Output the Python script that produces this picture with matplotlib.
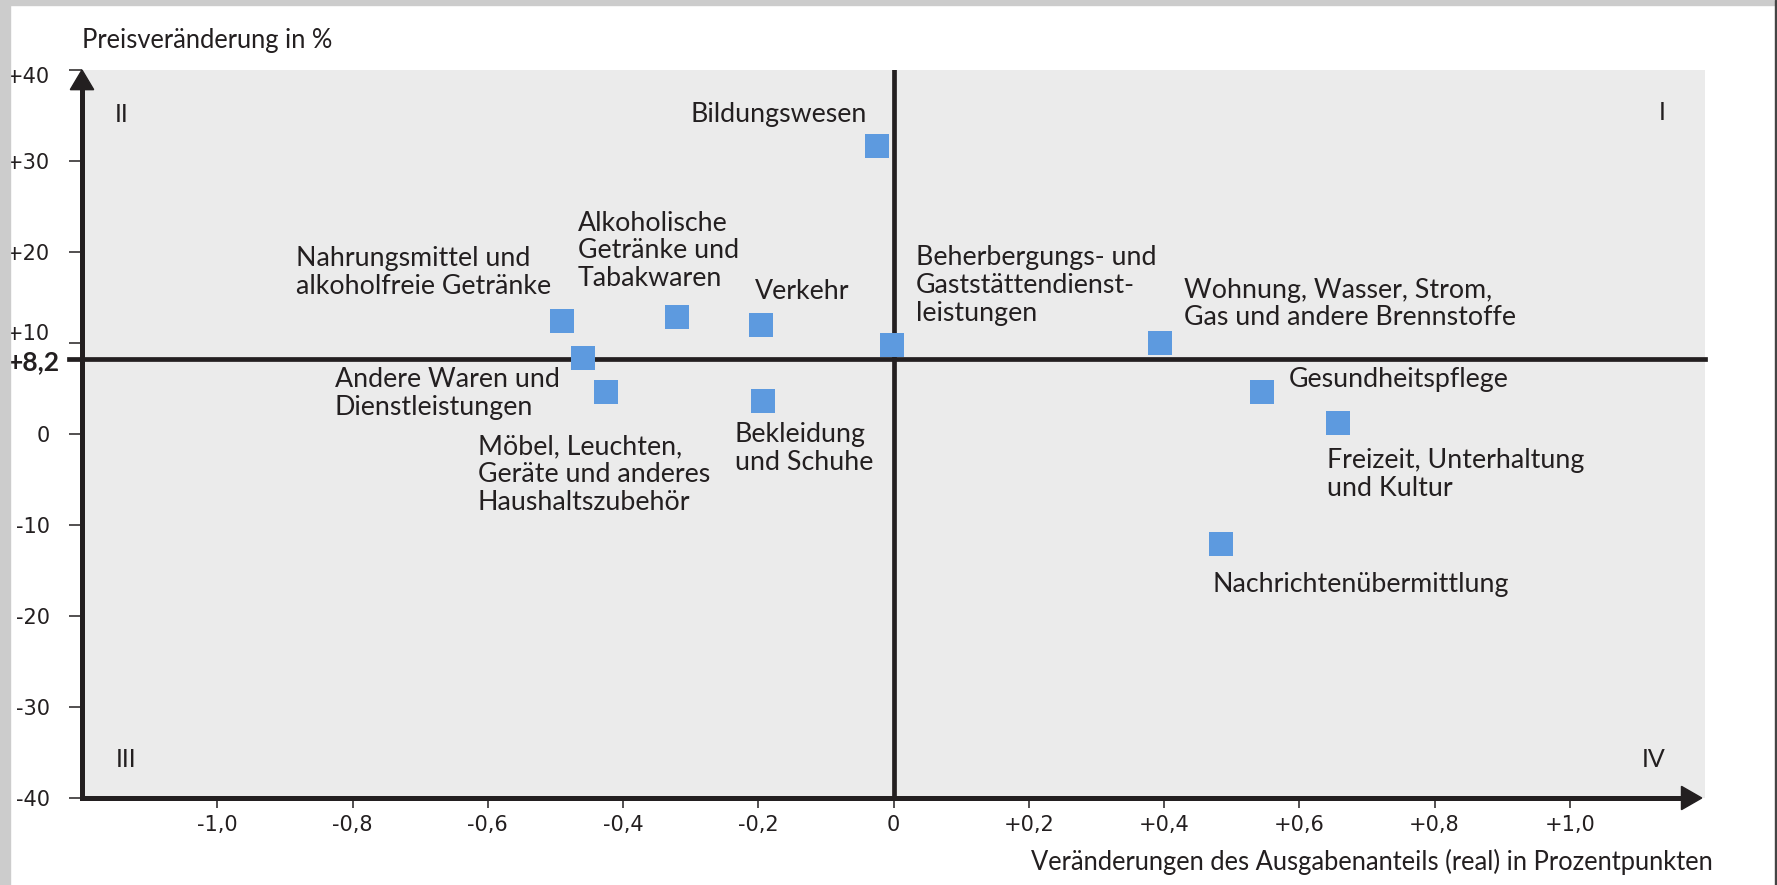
import matplotlib
matplotlib.use("Agg")
from matplotlib import pyplot as plt
from matplotlib.patches import Polygon, Rectangle
from matplotlib.transforms import ScaledTranslation, blended_transform_factory
import numpy as np

plt.rcParams['font.family'] = ['Lato', 'DejaVu Sans']

# data: change of expenditure share (pp) vs. price change (%)
categories = ['Nahrungsmittel und\nalkoholfreie Getränke',
              'Andere Waren und\nDienstleistungen',
              'Möbel, Leuchten,\nGeräte und anderes\nHaushaltszubehör',
              'Alkoholische\nGetränke und\nTabakwaren',
              'Verkehr',
              'Bekleidung\nund Schuhe',
              'Bildungswesen',
              'Beherbergungs- und\nGaststättendienst-\nleistungen',
              'Wohnung, Wasser, Strom,\nGas und andere Brennstoffe',
              'Gesundheitspflege',
              'Freizeit, Unterhaltung\nund Kultur',
              'Nachrichtenübermittlung']
share_change = [-0.490, -0.459, -0.425, -0.320, -0.196, -0.193,
                -0.024, -0.002, 0.394, 0.545, 0.658, 0.484]
price_change = [12.4, 8.3, 4.6, 12.9, 12.0, 3.6,
                31.7, 9.8, 10.0, 4.6, 1.2, -12.1]
avg_price = 8.2

xticks = [-1.0, -0.8, -0.6, -0.4, -0.2, 0, 0.2, 0.4, 0.6, 0.8, 1.0]
xticklabels = ['-1,0', '-0,8', '-0,6', '-0,4', '-0,2', '0',
               '+0,2', '+0,4', '+0,6', '+0,8', '+1,0']
yticks = [-40, -30, -20, -10, 0, 10, 20, 30, 40]
yticklabels = ['-40', '-30', '-20', '-10', '0', '+10', '+20', '+30', '+40']

# label anchor (left, baseline of first line) in data units
label_pos = [(-0.883, 18.4), (-0.826, 5.1), (-0.615, -2.4), (-0.467, 22.2),
             (-0.205, 14.8), (-0.235, -1.0), (-0.300, 34.3), (0.033, 18.4),
             (0.430, 14.9), (0.584, 5.15), (0.6415, -3.85), (0.472, -17.4)]
line_step = 27 / 9.1  # line pitch in data units

ink = '#231f20'
blue = '#5d9adf'

W, H = 1777, 885
fig = plt.figure(figsize=(W / 100, H / 100), dpi=100, facecolor='white')
# page frame
fig.patches.append(Rectangle((0, 0), 10 / W, 1, transform=fig.transFigure, color='#cccccc', zorder=0))
fig.patches.append(Rectangle((0, 1 - 5 / H), 1, 5 / H, transform=fig.transFigure, color='#cccccc', zorder=0))
fig.patches.append(Rectangle((1775 / W, 0), 1.2 / W, 1, transform=fig.transFigure, color='#444444', zorder=0))

ax = fig.add_axes([82 / W, 1 - 798 / H, 1623 / W, 728 / H])
ax.set_facecolor('#ebebeb')
ax.set_xlim(-1.2, 1.2)
ax.set_ylim(-40, 40)

for s in ['top', 'right']:
    ax.spines[s].set_visible(False)
for s in ['left', 'bottom']:
    ax.spines[s].set_linewidth(3.6)
    ax.spines[s].set_color(ink)
    ax.spines[s].set_capstyle('projecting')
ax.spines['left'].set_bounds(-40, 38)
ax.spines['bottom'].set_bounds(-1.2, 1.18)

# arrow heads
ax.add_patch(Polygon([(-0.0072, 1 - 0.027), (0.0072, 1 - 0.027), (0, 1)],
                     closed=True, transform=ax.transAxes, color=ink, clip_on=False, zorder=5))
ax.add_patch(Polygon([(0.998 - 0.0125, -0.016), (0.998 - 0.0125, 0.016), (0.998, 0)],
                     closed=True, transform=ax.transAxes, color=ink, clip_on=False, zorder=5))

# quadrant dividers
ax.axhline(avg_price, xmin=-0.008, xmax=1, color=ink, lw=3.4, clip_on=False, zorder=2)
ax.axvline(0, color=ink, lw=3.4, zorder=2)

ax.set_xticks(xticks)
ax.set_xticklabels(xticklabels, fontfamily='DejaVu Sans')
ax.set_yticks(yticks)
ax.set_yticklabels(yticklabels, fontfamily='DejaVu Sans')
ax.tick_params(axis='y', direction='out', length=9.4, width=1.1, color=ink,
               pad=14, labelsize=15, labelcolor=ink)
ax.tick_params(axis='x', direction='out', length=7.2, width=1.1, color=ink,
               pad=5, labelsize=15, labelcolor=ink)
for lab in ax.get_yticklabels():
    if lab.get_text() == '+10':
        lab.set_transform(lab.get_transform() + ScaledTranslation(0, 11 / 100, fig.dpi_scale_trans))
    if lab.get_text() == '+40':
        lab.set_transform(lab.get_transform() + ScaledTranslation(0, -5 / 100, fig.dpi_scale_trans))

trans = blended_transform_factory(ax.transAxes, ax.transData)
ax.text(-0.0136, 7.0, '+8,2', transform=trans, ha='right', va='baseline',
        fontsize=19, fontweight='bold', color=ink, clip_on=False)

ax.scatter(share_change, price_change, marker='s', s=16.6 ** 2, color=blue,
           linewidths=0, zorder=4)

# multi-line text: 'baseline' anchors the last line
for name, (lx, ly) in zip(categories, label_pos):
    n = name.count('\n')
    ax.text(lx, ly - n * line_step, name, ha='left', va='baseline', fontsize=19.3,
            color=ink, linespacing=1.135, zorder=6)

# quadrant numbers
for txt, qx, qy in [('II', -1.142, 34.3), ('I', 1.1365, 34.5),
                    ('III', -1.135, -36.6), ('IV', 1.1246, -36.6)]:
    ax.text(qx, qy, txt, ha='center', va='baseline', fontsize=18, color=ink)

fig.text(82 / W, 1 - 48 / H, 'Preisveränderung in %', ha='left', va='baseline',
         fontsize=18.4, color=ink)
fig.text(1713 / W, 1 - 870 / H, 'Veränderungen des Ausgabenanteils (real) in Prozentpunkten',
         ha='right', va='baseline', fontsize=18.4, color=ink)

fig.savefig('out.png', dpi=100)
